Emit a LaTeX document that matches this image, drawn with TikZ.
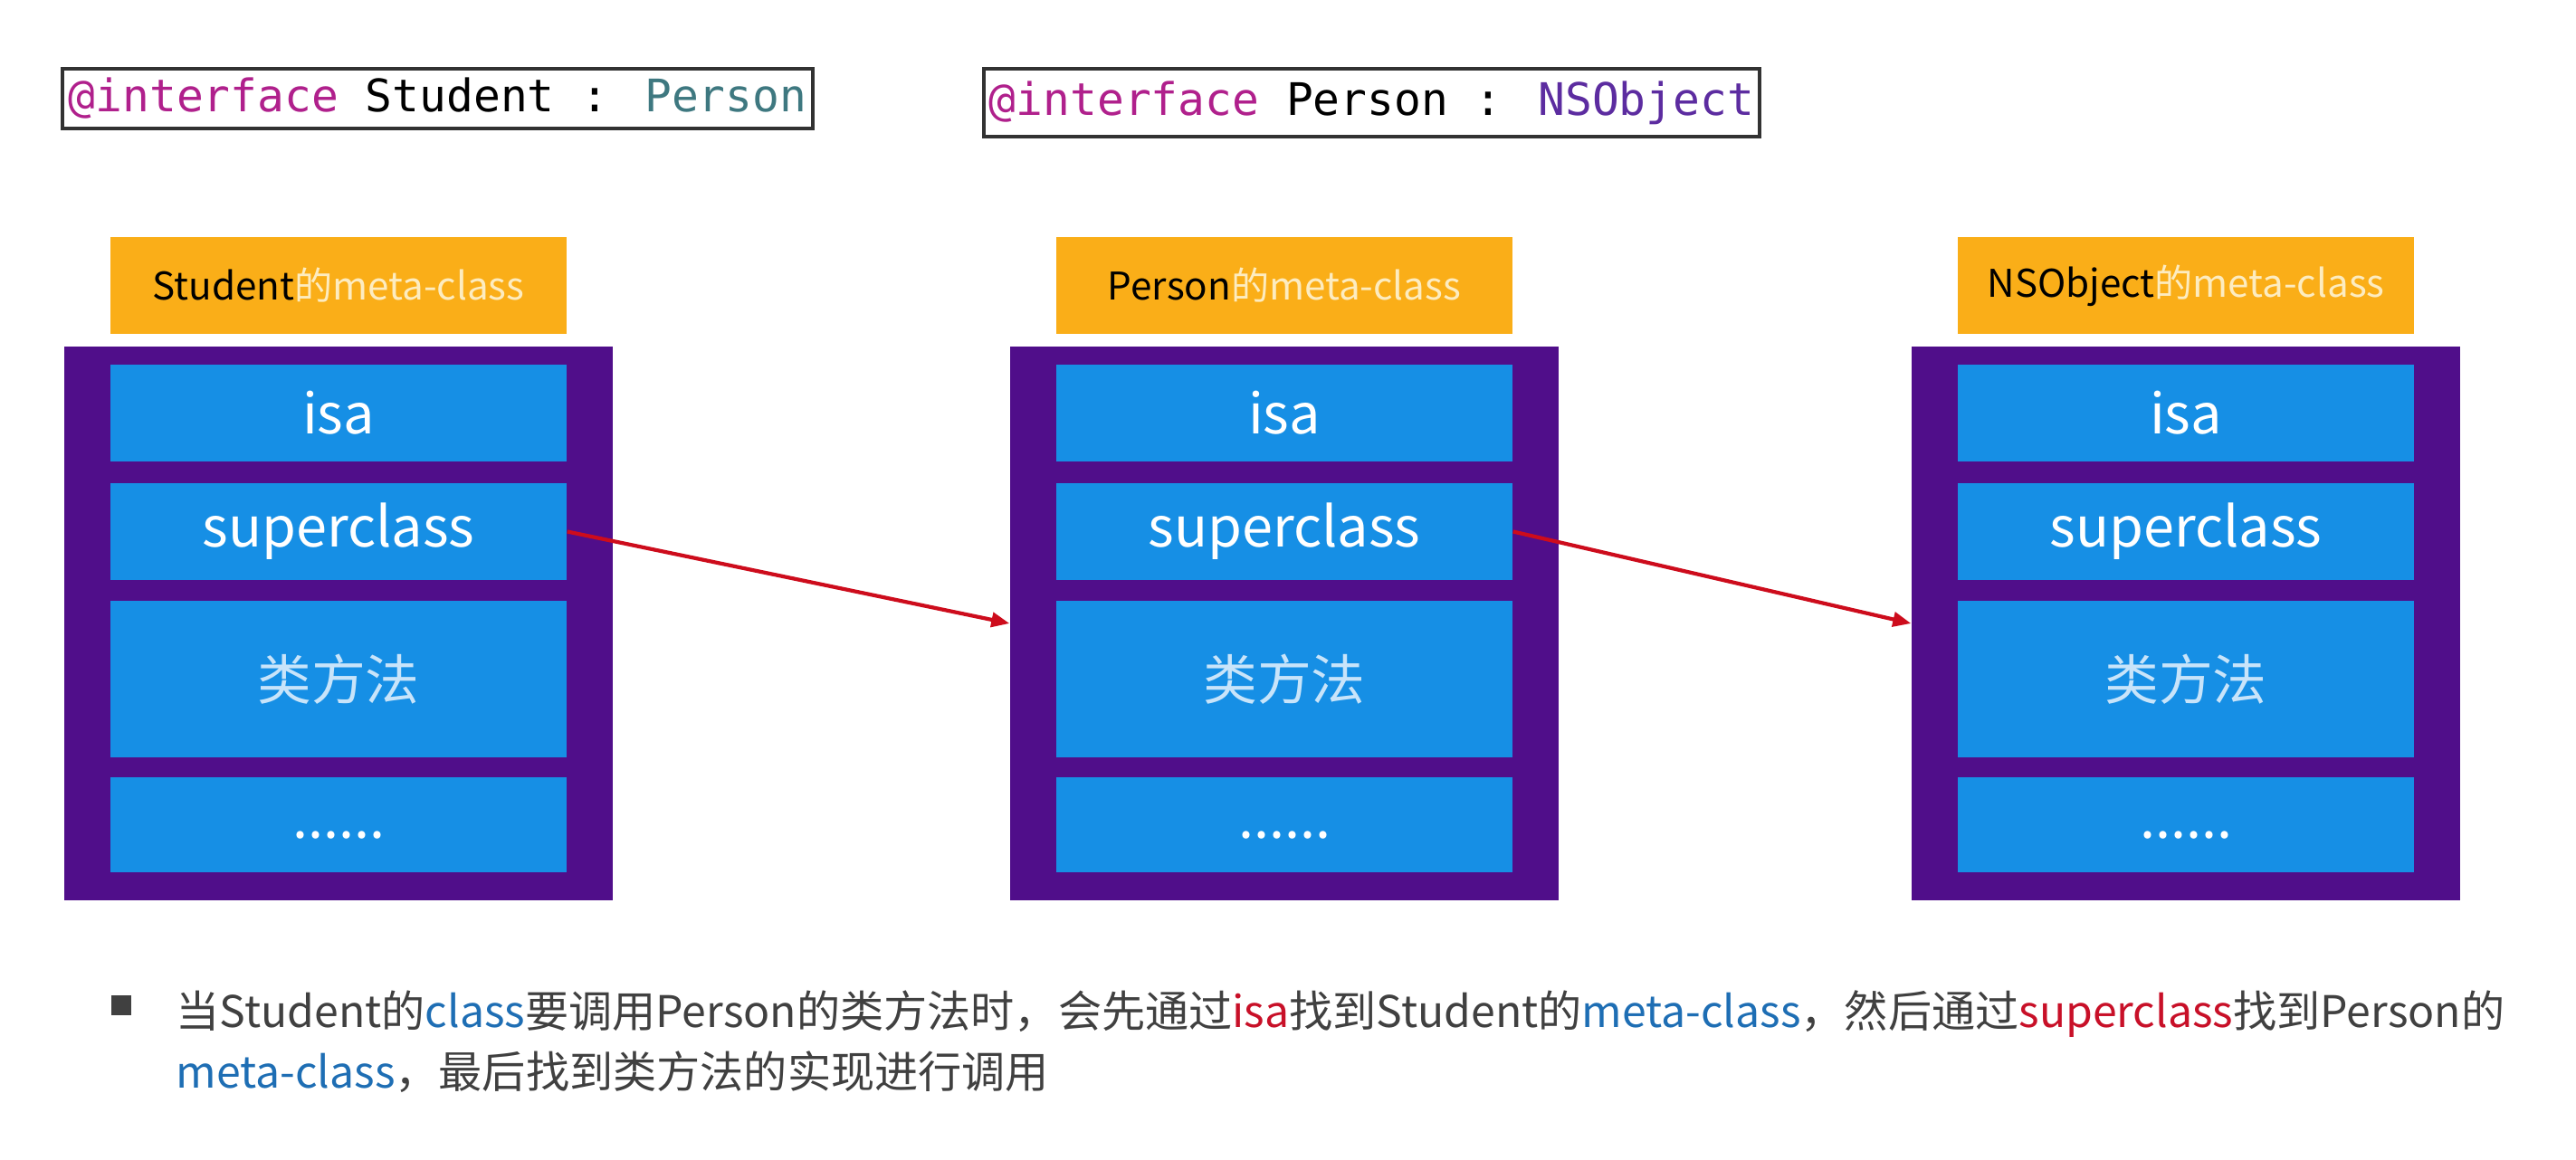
\documentclass[tikz,border=0pt]{standalone}
\usepackage{fontspec}
\setmainfont{Noto Sans CJK SC}
\newfontfamily\codefont{DejaVu Sans Mono}
\usetikzlibrary{arrows.meta}
\definecolor{metaorange}{RGB}{250,174,24}
\definecolor{metapurple}{RGB}{80,14,138}
\definecolor{rowblue}{RGB}{22,143,229}
\definecolor{arrowred}{RGB}{205,12,28}
\definecolor{headcream}{RGB}{253,236,192}
\definecolor{methodtint}{RGB}{200,228,250}
\definecolor{codegray}{RGB}{50,50,50}
\definecolor{kwpink}{RGB}{176,32,140}
\definecolor{typeteal}{RGB}{62,120,128}
\definecolor{typepurple}{RGB}{92,44,160}
\definecolor{hintgray}{RGB}{64,64,64}
\definecolor{hintblue}{RGB}{30,110,180}
\definecolor{hintred}{RGB}{200,16,40}

\begin{document}
\begin{tikzpicture}[
    code/.style={draw=codegray,line width=1pt,inner sep=0pt,font=\codefont\fontsize{14.1}{16}\selectfont},
    meta/.style={fill=metapurple,minimum width=6.06cm,minimum height=6.12cm,inner sep=0pt},
    head/.style={fill=metaorange,minimum width=5.04cm,minimum height=1.07cm,inner sep=0pt,font=\fontsize{12}{15}\selectfont},
    row/.style={fill=rowblue,text=white,minimum width=5.04cm,inner sep=0pt,font=\fontsize{17.4}{21}\selectfont},
    link/.style={arrowred,line width=1.2pt,-{Triangle[length=2mm,width=1.6mm]}},
    hint/.style={text=hintgray,inner sep=0pt,anchor=base west,font=\fontsize{13.7}{17}\selectfont}
  ]
    \fill[white] (0,0) rectangle (28.46,-12.82);
    \useasboundingbox (0,0) rectangle (28.46,-12.82);

    \node[code,minimum width=8.29cm,minimum height=0.66cm] (CS) at (4.835,-1.09) {\textcolor{kwpink}{@interface} Student : \textcolor{typeteal}{Person}};
    \node[code,minimum width=8.57cm,minimum height=0.75cm] (CP) at (15.155,-1.135) {\textcolor{kwpink}{@interface} Person : \textcolor{typepurple}{NSObject}};

    \node[meta] (SM) at (3.74,-6.89) {};
    \node[head] (SH) at (3.74,-3.155) {Student\textcolor{headcream}{的meta-class}};
    \node[row,minimum height=1.07cm] (SI) at (3.74,-4.565) {isa};
    \node[row,minimum height=1.07cm] (SS) at (3.74,-5.875) {superclass};
    \node[row,minimum height=1.73cm,text=methodtint,font=\fontsize{17}{20}\selectfont] (SC) at (3.74,-7.505) {类方法};
    \node[row,minimum height=1.05cm] (SD) at (3.74,-9.115) {\strut......};

    \node[meta] (PM) at (14.19,-6.89) {};
    \node[head] (PH) at (14.19,-3.155) {Person\textcolor{headcream}{的meta-class}};
    \node[row,minimum height=1.07cm] (PI) at (14.19,-4.565) {isa};
    \node[row,minimum height=1.07cm] (PS) at (14.19,-5.875) {superclass};
    \node[row,minimum height=1.73cm,text=methodtint,font=\fontsize{17}{20}\selectfont] (PC) at (14.19,-7.505) {类方法};
    \node[row,minimum height=1.05cm] (PD) at (14.19,-9.115) {\strut......};

    \node[meta] (NM) at (24.15,-6.89) {};
    \node[head] (NH) at (24.15,-3.155) {NSObject\textcolor{headcream}{的meta-class}};
    \node[row,minimum height=1.07cm] (NI) at (24.15,-4.565) {isa};
    \node[row,minimum height=1.07cm] (NS) at (24.15,-5.875) {superclass};
    \node[row,minimum height=1.73cm,text=methodtint,font=\fontsize{17}{20}\selectfont] (NC) at (24.15,-7.505) {类方法};
    \node[row,minimum height=1.05cm] (ND) at (24.15,-9.115) {\strut......};

    \draw[link] (SS.east) -- (PM.west);
    \draw[link] (PS.east) -- (NM.west);

    \node[fill=hintgray,minimum size=0.22cm,inner sep=0pt] (B) at (1.34,-11.11) {};
    \node[hint] (L1) at (1.94,-11.35) {当Student的\textcolor{hintblue}{class}要调用Person的类方法时，会先通过\textcolor{hintred}{isa}找到Student的\textcolor{hintblue}{meta-class}，然后通过\textcolor{hintred}{superclass}找到Person的};
    \node[hint] (L2) at (1.94,-12.02) {\textcolor{hintblue}{meta-class}，最后找到类方法的实现进行调用};
  \end{tikzpicture}
\end{document}
